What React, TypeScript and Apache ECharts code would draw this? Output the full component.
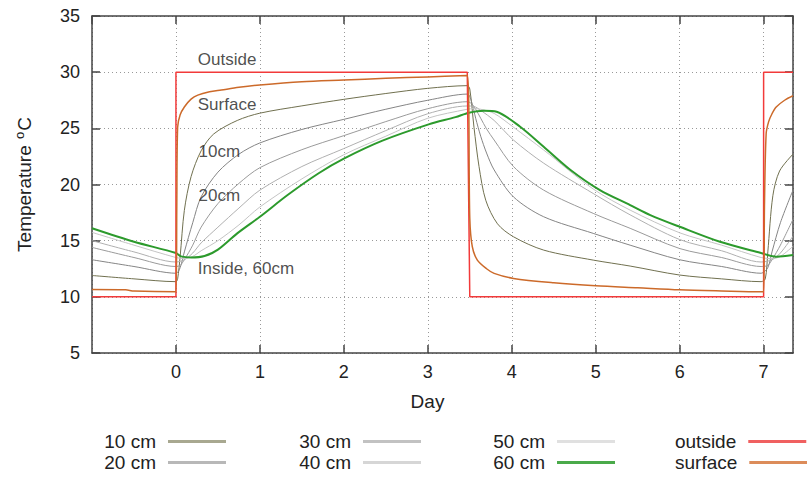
import React, { useEffect, useRef } from "react";
import * as echarts from "echarts";

// ---- data ----
const xTicks = [0, 1, 2, 3, 4, 5, 6, 7];

const outside: [number, number][] = [
  [-1, 10], [0, 10], [0, 30], [3.47, 30], [3.5, 10], [7, 10], [7, 30], [7.35, 30],
];

const surface: [number, number][] = [
  [-1, 10.65], [-0.6, 10.62], [-0.5, 10.52], [0, 10.45], [0.01, 18], [0.02, 25.1], [0.05, 26.2],
  [0.1, 26.9], [0.18, 27.6], [0.26, 27.96], [0.4, 28.25], [0.54, 28.41], [0.75, 28.65],
  [1.0, 28.86], [1.5, 29.15], [2.0, 29.3], [2.5, 29.45], [3.0, 29.58], [3.47, 29.7],
  [3.5, 17.0], [3.53, 14.46], [3.59, 13.27], [3.7, 12.5], [3.79, 12.09], [4.02, 11.64],
  [4.5, 11.25], [5.0, 10.98], [5.5, 10.8], [6.0, 10.62], [6.5, 10.52], [6.97, 10.45],
  [7.0, 10.45], [7.01, 18], [7.03, 24.5], [7.06, 25.6], [7.1, 26.3], [7.15, 26.9],
  [7.25, 27.5], [7.35, 27.9],
];

const cm10: [number, number][] = [
  [-1, 11.9], [-0.5, 11.6], [0, 11.35], [0.02, 11.6], [0.05, 13.6], [0.1, 17.7], [0.18, 20.7],
  [0.3, 23.0], [0.45, 24.5], [0.73, 25.7], [1.0, 26.35], [1.5, 27.0], [2.0, 27.58],
  [2.5, 28.1], [3.0, 28.56], [3.47, 28.8], [3.5, 28.5], [3.55, 25.1], [3.61, 21.6],
  [3.69, 18.6], [3.83, 16.5], [4.02, 15.35], [4.38, 14.16], [4.97, 13.27], [5.41, 12.74],
  [6.0, 11.94], [6.5, 11.6], [6.97, 11.35], [7.02, 11.6], [7.05, 14.0], [7.11, 19.0],
  [7.19, 21.2], [7.35, 22.7],
];

const cm20: [number, number][] = [
  [-1, 13.3], [-0.5, 12.7], [0, 12.1], [0.05, 12.6], [0.1, 14.0], [0.2, 16.6], [0.3, 18.9],
  [0.5, 21.1], [0.75, 22.7], [1.0, 23.7], [1.5, 24.9], [2.0, 25.8], [2.5, 26.7],
  [3.0, 27.5], [3.47, 28.05], [3.52, 27.4], [3.57, 25.9], [3.63, 24.3], [3.7, 22.8],
  [3.79, 21.3], [4.02, 18.9], [4.38, 17.13], [4.97, 15.65], [5.41, 14.6], [6.0, 13.3],
  [6.5, 12.7], [6.97, 12.1], [7.05, 12.6], [7.1, 14.0], [7.2, 16.6], [7.35, 19.5],
];

const cm30: [number, number][] = [
  [-1, 14.4], [-0.5, 13.5], [0, 12.7], [0.05, 12.8], [0.1, 13.3], [0.2, 14.6], [0.3, 16.2],
  [0.5, 18.3], [0.75, 20.1], [1.0, 21.5], [1.5, 23.1], [2.0, 24.35], [2.5, 25.6],
  [3.0, 26.75], [3.47, 27.37], [3.52, 27.2], [3.57, 26.7], [3.63, 25.9], [3.7, 24.95],
  [3.79, 23.96], [4.02, 21.6], [4.38, 19.5], [4.97, 17.43], [5.41, 16.1], [6.0, 14.3],
  [6.5, 13.5], [6.97, 12.7], [7.05, 12.8], [7.1, 13.3], [7.2, 14.6], [7.35, 16.9],
];

const cm40: [number, number][] = [
  [-1, 15.0], [-0.5, 14.0], [0, 13.1], [0.1, 13.3], [0.2, 13.9], [0.3, 14.8], [0.5, 16.2],
  [0.75, 17.9], [1.0, 19.5], [1.5, 21.6], [2.0, 23.2], [2.5, 24.8], [3.0, 26.3],
  [3.47, 26.99], [3.55, 26.95], [3.63, 26.6], [3.79, 25.7], [4.02, 23.96], [4.38, 21.9],
  [4.97, 19.2], [5.41, 17.3], [6.0, 15.1], [6.5, 14.1], [6.97, 13.1], [7.1, 13.3],
  [7.2, 13.9], [7.35, 15.4],
];

const cm50: [number, number][] = [
  [-1, 15.74], [-0.5, 14.6], [0, 13.5], [0.1, 13.4], [0.2, 13.6], [0.3, 14.1], [0.5, 15.0],
  [0.75, 16.4], [1.0, 18.0], [1.5, 20.5], [2.0, 22.65], [2.5, 24.3], [3.0, 25.9],
  [3.47, 26.7], [3.55, 26.76], [3.63, 26.7], [3.79, 26.33], [4.02, 25.1], [4.38, 23.07],
  [4.97, 19.6], [5.41, 17.72], [6.0, 15.7], [6.5, 14.6], [6.97, 13.5], [7.1, 13.4],
  [7.2, 13.6], [7.35, 14.5],
];

const cm60: [number, number][] = [
  [-1, 16.1], [-0.5, 14.9], [0, 13.9], [0.06, 13.6], [0.18, 13.5], [0.34, 13.63], [0.5, 14.2],
  [0.73, 15.65], [1.0, 17.13], [1.33, 19.06], [1.7, 21.0], [2.0, 22.3], [2.46, 23.9],
  [3.01, 25.35], [3.33, 26.0], [3.49, 26.39], [3.67, 26.57], [3.82, 26.48], [4.1, 25.14],
  [4.38, 23.36], [4.7, 21.29], [5.05, 19.5], [5.41, 18.17], [5.65, 17.28], [6.0, 16.24],
  [6.48, 14.9], [6.96, 13.92], [7.15, 13.57], [7.35, 13.72],
];

const annotations: [number, number, string][] = [
  [0.26, 31.1, "Outside"],
  [0.26, 27.1, "Surface"],
  [0.27, 22.9, "10cm"],
  [0.27, 19.05, "20cm"],
  [0.26, 12.55, "Inside, 60cm"],
];

const seriesNames = ["10 cm", "20 cm", "30 cm", "40 cm", "50 cm", "60 cm", "outside", "surface"];
const seriesData = [cm10, cm20, cm30, cm40, cm50, cm60, outside, surface];
const lineColors = ["#70704f", "#858585", "#9a9a9a", "#b0b0b0", "#c4c4c4", "#2c9a2c", "#f23a3a", "#cc6a2a"];
const legendColors = ["#a8a890", "#b8b8b8", "#c2c2c2", "#d6d6d6", "#e0e0e0", "#4aaa4a", "#f06060", "#dc8c5a"];
const lineWidths = [1, 1, 1, 1, 1, 2, 1.5, 1.5];

const FONT = "Liberation Sans";
const FS_TICK = 18;
const FS_NAME = 19;
const FS_LEG = 19;
const FS_NOTE = 17;

export default function App() {
  const ref = useRef<HTMLDivElement>(null);
  useEffect(() => {
    if (!ref.current) return;
    const chart = echarts.init(ref.current, null, { renderer: "svg" });

    const axisColor = "#444";
    const splitLine = { show: true, lineStyle: { color: "#999", type: [1, 3] as any, width: 1 } };

    const xCommon = { type: "value" as const, min: -1, max: 7.35, interval: 1 };
    const yCommon = { type: "value" as const, min: 5, max: 35, interval: 5 };

    const series: any[] = seriesData.map((d, i) => ({
      name: seriesNames[i],
      type: "line",
      data: d,
      showSymbol: false,
      symbol: "none",
      smooth: i === 6 ? false : 0.3,
      lineStyle: { color: lineColors[i], width: lineWidths[i] },
      itemStyle: { color: lineColors[i] },
      silent: true,
      z: 2 + i,
    }));

    series.push({
      name: "annotations",
      type: "scatter",
      data: annotations,
      symbolSize: 0,
      silent: true,
      encode: { x: 0, y: 1 },
      label: {
        show: true,
        position: [0, 0],
        align: "left",
        verticalAlign: "middle",
        formatter: (p: any) => p.data[2],
        color: "#222",
        fontFamily: FONT,
        fontSize: FS_NOTE,
      },
      z: 20,
    });

    // legend: 4 columns x 2 rows, text left of a line sample
    const legendRowCenter = [442, 463];
    const legendPos: any[] = [
      { right: 581 }, { right: 581 },
      { right: 386 }, { right: 386 },
      { right: 192 }, { right: 192 },
      { left: 675 }, { left: 675 },
    ];
    const legends = seriesNames.map((n, i) => ({
      ...legendPos[i],
      top: legendRowCenter[i % 2] - 10,
      orient: "horizontal",
      align: "right",
      padding: 0,
      itemWidth: 58,
      itemHeight: 3,
      icon: "rect",
      data: [{ name: n, itemStyle: { color: legendColors[i] } }],
      textStyle: { fontFamily: FONT, fontSize: FS_LEG, color: "#222", padding: [0, 7, 0, 0] },
      selectedMode: false,
    }));

    chart.setOption({
      animation: false,
      backgroundColor: "#fff",
      textStyle: { fontFamily: FONT },
      grid: { left: 92, right: 14, top: 16, bottom: 125, containLabel: false },
      legend: legends,
      xAxis: [
        {
          ...xCommon,
          position: "bottom",
          name: "Day",
          nameLocation: "middle",
          nameGap: 39,
          nameTextStyle: { fontFamily: FONT, fontSize: FS_NAME, color: "#222", padding: [0, 30, 0, 0] },
          axisLine: { show: true, onZero: false, lineStyle: { color: axisColor, width: 1.5 } },
          axisTick: { show: true, inside: true, length: 8, lineStyle: { color: axisColor, width: 1.5 } },
          axisLabel: {
            show: true,
            margin: 10,
            fontFamily: FONT,
            fontSize: FS_TICK,
            color: "#222",
            showMinLabel: false,
            showMaxLabel: false,
            formatter: (v: number) => (xTicks.includes(v) ? String(v) : ""),
          },
          splitLine,
        },
        {
          ...xCommon,
          position: "top",
          axisLine: { show: true, onZero: false, lineStyle: { color: axisColor, width: 1.5 } },
          axisTick: { show: true, inside: true, length: 8, lineStyle: { color: axisColor, width: 1.5 } },
          axisLabel: { show: false },
          splitLine: { show: false },
        },
      ],
      yAxis: [
        {
          ...yCommon,
          position: "left",
          name: "{t|Temperature }{s|o}{t|C}",
          nameLocation: "middle",
          nameGap: 57,
          nameRotate: 90,
          nameTextStyle: {
            color: "#222",
            rich: {
              t: { fontFamily: FONT, fontSize: FS_NAME, color: "#222" },
              s: { fontFamily: FONT, fontSize: 13, color: "#222", verticalAlign: "top", padding: [0, 1, 9, 1] },
            },
          },
          axisLine: { show: true, onZero: false, lineStyle: { color: axisColor, width: 1.5 } },
          axisTick: { show: true, inside: true, length: 8, lineStyle: { color: axisColor, width: 1.5 } },
          axisLabel: { show: true, margin: 12, fontFamily: FONT, fontSize: FS_TICK, color: "#222" },
          splitLine,
        },
        {
          ...yCommon,
          position: "right",
          axisLine: { show: true, onZero: false, lineStyle: { color: axisColor, width: 1.5 } },
          axisTick: { show: true, inside: true, length: 8, lineStyle: { color: axisColor, width: 1.5 } },
          axisLabel: { show: false },
          splitLine: { show: false },
        },
      ],
      series,
    });

    return () => chart.dispose();
  }, []);

  return (
    <div
      ref={ref}
      style={{ position: "absolute", left: 0, top: 0, width: 807, height: 478 }}
    />
  );
}
